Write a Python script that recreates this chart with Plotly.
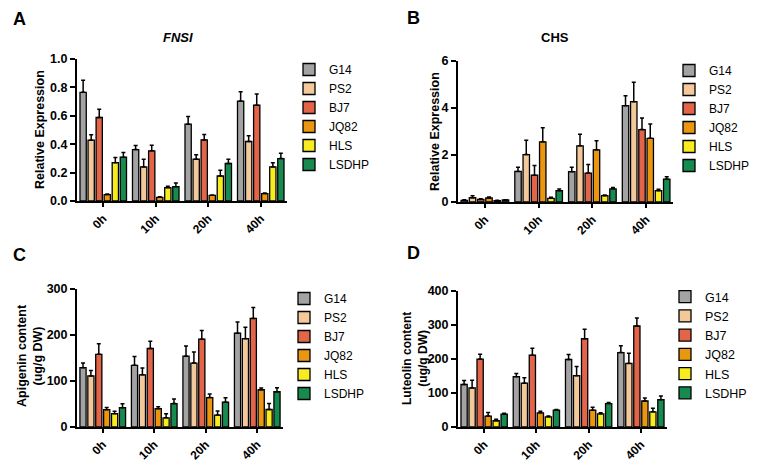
import plotly.graph_objects as go

# ---------------- data ----------------
times = ["0h", "10h", "20h", "40h"]
lines = ["G14", "PS2", "BJ7", "JQ82", "HLS", "LSDHP"]
colors = ["#a3a3a3", "#f3c99b", "#e2654a", "#eb960f", "#f7ec1f", "#178a4f"]

# Panel A: FNSI relative expression (rows follow `lines`, columns follow `times`)
fnsi_mean = [
    [0.765, 0.362, 0.541, 0.704],
    [0.428, 0.240, 0.294, 0.419],
    [0.588, 0.353, 0.430, 0.675],
    [0.045, 0.026, 0.040, 0.052],
    [0.270, 0.094, 0.176, 0.240],
    [0.308, 0.101, 0.264, 0.299],
]
fnsi_err = [
    [0.085, 0.028, 0.054, 0.066],
    [0.038, 0.054, 0.031, 0.040],
    [0.059, 0.040, 0.038, 0.078],
    [0.005, 0.004, 0.003, 0.004],
    [0.036, 0.009, 0.040, 0.030],
    [0.033, 0.026, 0.030, 0.037],
]

# Panel B: CHS relative expression
chs_mean = [
    [0.07, 1.30, 1.29, 4.10],
    [0.18, 2.02, 2.39, 4.27],
    [0.11, 1.14, 1.23, 3.08],
    [0.17, 2.56, 2.22, 2.71],
    [0.06, 0.155, 0.27, 0.48],
    [0.085, 0.48, 0.56, 0.97],
]
chs_err = [
    [0.03, 0.18, 0.19, 0.42],
    [0.09, 0.61, 0.49, 0.83],
    [0.03, 0.41, 0.37, 0.49],
    [0.04, 0.60, 0.39, 0.61],
    [0.01, 0.045, 0.03, 0.06],
    [0.015, 0.07, 0.06, 0.10],
]

# Panel C: Apigenin content (ug/g DW)
api_mean = [
    [129, 134, 154, 204],
    [111, 113.5, 139, 192],
    [158, 170.6, 191, 236],
    [37.6, 39.8, 64, 81],
    [29, 20, 26, 38],
    [42, 51, 54, 76.6],
]
api_err = [
    [10, 19, 22, 24],
    [12, 15, 24, 25],
    [23, 16, 19, 24],
    [5, 4, 7.6, 3.6],
    [5, 9, 8.7, 13],
    [8.6, 10, 9.6, 8.7],
]

# Panel D: Luteolin content (ug/g DW)
lut_mean = [
    [125, 148, 198.5, 219],
    [115, 129, 151, 187],
    [199.5, 211, 259.6, 297],
    [32, 41.6, 49.4, 76.5],
    [18.4, 30, 38.7, 44.5],
    [37.8, 49.4, 68.8, 80.4],
]
lut_err = [
    [11.6, 9, 14.5, 20],
    [22.5, 16, 27, 30],
    [14.5, 20.5, 28, 23.6],
    [10.6, 5, 8.6, 8.5],
    [4.6, 2, 3, 10.5],
    [3, 2, 3, 10.6],
]

# ---------------- figure ----------------
W, H = 760, 462
FONT = "Arial, 'Liberation Sans', Helvetica, sans-serif"


def px(x):
    return x / W


def py(y):
    return 1 - y / H


panels = [
    # means, errs, axis suffix, legend name, x px range, y px range, yrange, dtick, tickformat, legend pos, legend font
    (fnsi_mean, fnsi_err, "", "legend", (77, 287), (59, 201), [0, 1.0], 0.2, ".1f", (289, 55), 12),
    (chs_mean, chs_err, "2", "legend2", (458, 673), (61, 202), [0, 6], 2, "d", (669, 56), 12),
    (api_mean, api_err, "3", "legend3", (77, 283), (289, 427), [0, 300], 100, "d", (284, 284), 12),
    (lut_mean, lut_err, "4", "legend4", (458, 667), (291, 427), [0, 400], 100, "d", (665, 282), 12.5),
]

fig = go.Figure()
layout = {}

for means, errs, sfx, leg, (x0, x1), (y0, y1), yr, dt, tf, (lx, ly), lfs in panels:
    for i, name in enumerate(lines):
        fig.add_trace(go.Bar(
            x=times,
            y=means[i],
            name=name,
            legend=leg,
            xaxis="x" + sfx,
            yaxis="y" + sfx,
            marker=dict(color=colors[i], line=dict(color="black", width=1.3)),
            error_y=dict(type="data", symmetric=False, array=errs[i],
                         arrayminus=[0] * len(times), color="black",
                         thickness=1.5, width=2),
        ))
    layout["xaxis" + sfx] = dict(
        domain=[px(x0), px(x1)], anchor="y" + sfx, type="category",
        range=[-0.5, 3.5], showline=True, linecolor="black", linewidth=2,
        ticks="outside", ticklen=4, tickwidth=1.5, tickcolor="black",
        tickangle=-45, showgrid=False, zeroline=False, automargin=False,
        tickfont=dict(family=FONT, size=12, color="black", weight="bold"),
    )
    layout["yaxis" + sfx] = dict(
        domain=[py(y1), py(y0)], anchor="x" + sfx, range=yr, dtick=dt,
        tickformat=tf, showline=True, linecolor="black", linewidth=2,
        ticks="outside", ticklen=5, tickwidth=1.5, tickcolor="black",
        showgrid=False, zeroline=False, automargin=False,
        tickfont=dict(family=FONT, size=12.5, color="black", weight="bold"),
    )
    layout[leg] = dict(
        x=px(lx), y=py(ly), xanchor="left", yanchor="top",
        bgcolor="rgba(0,0,0,0)", borderwidth=0,
        font=dict(family=FONT, size=lfs, color="black"),
        traceorder="normal",
    )

annotations = []


def ann(text, x, y, size, angle=0, bold=True, italic=False):
    annotations.append(dict(
        text=text, x=px(x), y=py(y), xref="paper", yref="paper",
        showarrow=False, textangle=angle, xanchor="center", yanchor="middle",
        font=dict(family=FONT, size=size, color="black",
                  weight="bold" if bold else "normal",
                  style="italic" if italic else "normal"),
    ))


ann("A", 19, 19, 18)
ann("B", 413, 18, 18)
ann("C", 19, 255, 18)
ann("D", 413, 253, 18)
ann("FNSI", 178, 37, 13, italic=True)
ann("CHS", 555, 37, 13)
ann("Relative Expression", 40, 130, 12.5, angle=-90)
ann("Relative Expression", 435, 131, 12.5, angle=-90)
ann("Apigenin content<br>(ug/g DW)", 30, 356, 12.5, angle=-90)
ann("Luteolin content<br>(ug/g DW)", 415, 359, 12, angle=-90)

fig.update_layout(
    width=W, height=H,
    margin=dict(l=0, r=0, t=0, b=0, autoexpand=False),
    paper_bgcolor="white", plot_bgcolor="white",
    barmode="group", bargap=0.08, bargroupgap=0.22,
    showlegend=True,
    annotations=annotations,
    font=dict(family=FONT, color="black"),
    **layout,
)

fig.write_html(
    "out.html",
    config={"displayModeBar": False},
    post_script="document.body.style.margin='0';document.body.style.padding='0';",
)
